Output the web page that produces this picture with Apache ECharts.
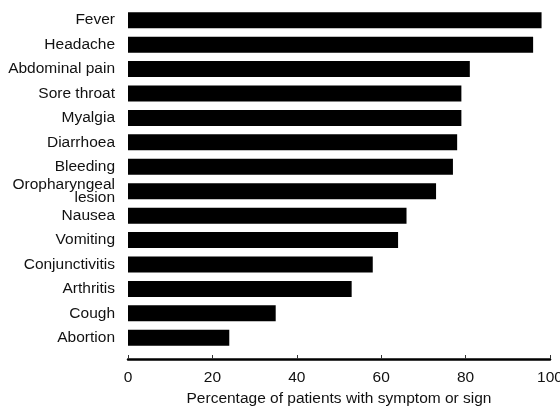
<!DOCTYPE html>
<html>
<head>
<meta charset="utf-8">
<script src="https://cdn.jsdelivr.net/npm/echarts@6/dist/echarts.min.js"></script>
<style>html,body{margin:0;padding:0;background:#fff}#c{width:560px;height:407px}</style>
</head>
<body>
<div id="c"></div>
<script>
const categories = ["Fever","Headache","Abdominal pain","Sore throat","Myalgia","Diarrhoea","Bleeding","Oropharyngeal\nlesion","Nausea","Vomiting","Conjunctivitis","Arthritis","Cough","Abortion"];
const values = [98, 96, 81, 79, 79, 78, 77, 73, 66, 64, 58, 53, 35, 24];
const xTicks = [0, 20, 40, 60, 80, 100];
const xTitle = "Percentage of patients with symptom or sign";

const chart = echarts.init(document.getElementById('c'), null, {renderer: 'canvas'});
chart.setOption({
  backgroundColor: '#fff',
  animation: false,
  grid: {left: 128, right: 10, top: 8, bottom: 57, containLabel: false, outerBoundsMode: 'none'},
  xAxis: {
    type: 'value', min: xTicks[0], max: xTicks[xTicks.length - 1], interval: 20,
    offset: 9,
    axisLine: {show: true, lineStyle: {color: '#000', width: 2.5}},
    axisTick: {show: true, inside: true, length: 4, lineStyle: {color: '#333', width: 1}},
    splitLine: {show: false},
    axisLabel: {color: '#111', fontFamily: 'Liberation Sans, Arial, sans-serif', fontSize: 15.5, margin: 11},
    name: xTitle, nameLocation: 'middle', nameGap: 31,
    nameTextStyle: {color: '#111', fontFamily: 'Liberation Sans, Arial, sans-serif', fontSize: 15.5}
  },
  yAxis: {
    type: 'category', data: categories, inverse: true,
    axisLine: {show: false}, axisTick: {show: false}, splitLine: {show: false},
    axisLabel: {color: '#111', fontFamily: 'Liberation Sans, Arial, sans-serif', fontSize: 15.5, margin: 13, lineHeight: 13}
  },
  series: [{
    type: 'bar', data: values, barWidth: 16,
    itemStyle: {color: '#000'}
  }]
});
</script>
</body>
</html>
